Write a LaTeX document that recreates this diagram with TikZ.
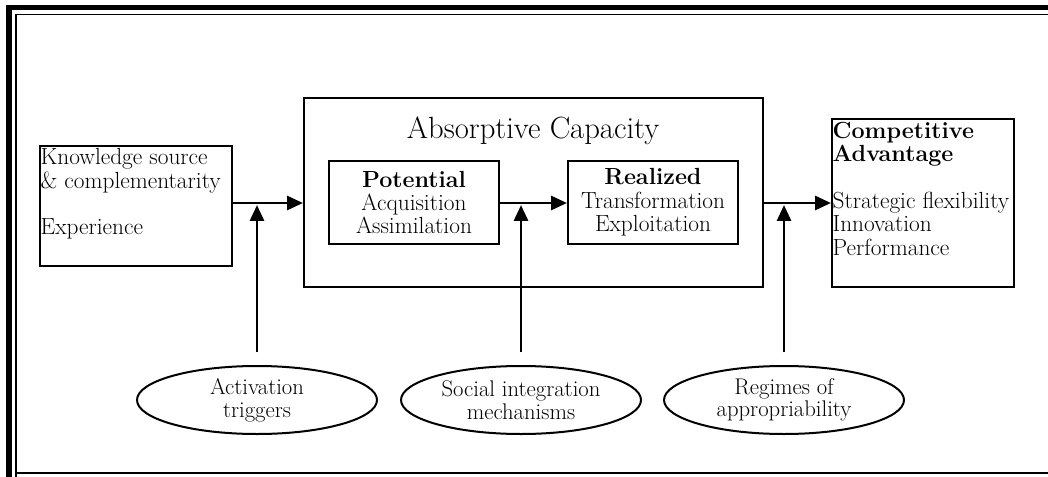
\documentclass[tikz,border=0pt]{standalone}
\usepackage{fontspec}
\usetikzlibrary{arrows.meta,shapes.geometric}
\begin{document}
\begin{tikzpicture}[x=0.75pt,y=-0.75pt,
  box/.style={draw,line width=1.5pt,inner sep=0pt},
  txt/.style={font=\fontsize{17.5}{17.5}\selectfont},
  flow/.style={line width=2.2pt,-{Triangle[length=12pt,width=10.5pt]}},
  oval/.style={ellipse,draw,line width=1.5pt,minimum width=180pt,minimum height=51pt,
    inner sep=0pt,align=center,font=\fontsize{17}{17}\selectfont}]
\useasboundingbox (0,0) rectangle (1048,477);

% page border: thick-thin rule on top and left, thin rule at the bottom
\fill (6,5) rectangle (1048,10);
\fill (6,5) rectangle (12,477);
\draw[line width=1.2pt] (16,477) -- (16,14.5) -- (1048,14.5);
\draw[line width=1.5pt] (16,473) -- (1048,473);

% sources
\node[box,minimum width=144pt,minimum height=90pt] (src) at (136,206) {};
\node[txt,anchor=north west,align=left,inner xsep=1pt,inner ysep=2.5pt] (srctext) at (src.north west)
  {Knowledge source\\ \& complementarity\\[17.5pt] Experience};

% absorptive capacity
\node[box,minimum width=344.25pt,minimum height=141.75pt] (ac) at (533.5,192.5) {};
\node[font=\fontsize{23}{25}\selectfont] (actitle) at (533,131) {Absorptive Capacity};
\node[box,txt,align=center,minimum width=127.5pt,minimum height=62.25pt] (pot) at (414,202.5)
  {\textbf{Potential}\\ Acquisition\\ Assimilation};
\node[box,txt,align=center,minimum width=127.5pt,minimum height=62.25pt] (real) at (653,202.5)
  {\textbf{Realized}\\ Transformation\\ Exploitation};

% outcomes
\node[box,minimum width=136.5pt,minimum height=126pt] (ca) at (923,203) {};
\node[txt,anchor=north west,align=left,inner xsep=1pt,inner ysep=3pt] (catext) at (ca.north west)
  {\textbf{Competitive}\\ \textbf{Advantage}\\[17.5pt] Strategic flexibility\\ Innovation\\ Performance};

% moderators
\node[oval] (trig) at (257,400) {Activation\\ triggers};
\node[oval] (soc) at (521,400) {Social integration\\ mechanisms};
\node[oval] (reg) at (784,400) {Regimes of\\ appropriability};

% flows
\coordinate (lvl) at (0,203);
\coordinate (j1) at (257,205);
\coordinate (j2) at (521,205);
\coordinate (j3) at (784,205);
\draw[flow] (src.east |- lvl) -- (ac.west |- lvl);
\draw[flow] (pot.east |- lvl) -- (real.west |- lvl);
\draw[flow] (ac.east |- lvl) -- (ca.west |- lvl);
\draw[flow] ([yshift=9.5pt]trig.north) -- (j1);
\draw[flow] ([yshift=9.5pt]soc.north) -- (j2);
\draw[flow] ([yshift=9.5pt]reg.north) -- (j3);
\end{tikzpicture}
\end{document}
